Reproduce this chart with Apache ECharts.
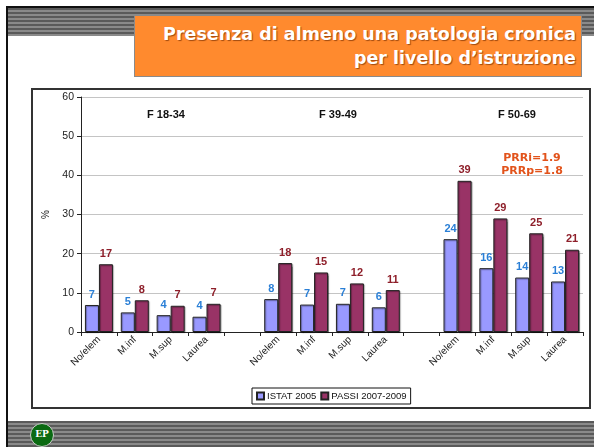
<!DOCTYPE html>
<html>
<head>
<meta charset="utf-8">
<script src="https://cdn.jsdelivr.net/npm/echarts@6/dist/echarts.min.js"></script>
<style>
  html, body { margin: 0; padding: 0; width: 594px; height: 447px; background: #fff; overflow: hidden; }
  .frame-left { position: absolute; left: 6px; top: 6px; width: 2px; height: 441px; background: #111; }
  .frame-top { position: absolute; left: 6px; top: 6px; width: 588px; height: 2px; background: #111; }
  .stripes { position: absolute; left: 8px; width: 586px;
    background: repeating-linear-gradient(to bottom, #5a5a5a 0px, #5a5a5a 2px, #8a8a8a 2px, #8a8a8a 4px); }
  .head { top: 8px; height: 28px; }
  .foot { top: 421px; height: 26px; }
  .titlebox { position: absolute; left: 134px; top: 15px; width: 448px; height: 62px;
    background: #ff8a2e; border: 1px solid #8a8a8a; text-align: right;
    font-family: "DejaVu Sans", sans-serif; font-weight: bold; font-size: 17.5px; color: #fff;
    line-height: 24px; padding: 6px 5px 0 0; box-sizing: border-box; text-shadow: 1px 1px 1px #a04a10; }
  .logo { position: absolute; left: 30px; top: 423px; width: 22px; height: 22px; border-radius: 50%;
    background: #0a6a12; border: 1px solid #ccc; color: #fff; font: bold 9px "DejaVu Serif", serif;
    text-align: center; line-height: 20px; }
  #main { position: absolute; left: 31px; top: 88px; width: 560px; height: 321px;
    border: 2px solid #333; box-sizing: border-box; background: #fff; }
</style>
</head>
<body>
<div class="frame-top"></div>
<div class="frame-left"></div>
<div class="stripes head"></div>
<div class="stripes foot"></div>
<div class="logo">EP</div>
<div class="titlebox">Presenza di almeno una patologia cronica<br>per livello d’istruzione</div>
<div id="main"></div>
<script>
// categorie (tre gruppi di età separati da una colonna vuota)
const categories = ['No/elem', 'M.inf', 'M.sup', 'Laurea', '',
                    'No/elem', 'M.inf', 'M.sup', 'Laurea', '',
                    'No/elem', 'M.inf', 'M.sup', 'Laurea'];
const istat = [6.9, 5.0, 4.3, 3.9, '-', 8.4, 7.0, 7.2, 6.3, '-', 23.7, 16.3, 13.9, 12.9];
const passi = [17.3, 8.1, 6.7, 7.2, '-', 17.6, 15.2, 12.4, 10.7, '-', 38.6, 29.0, 25.2, 21.0];
const yTicks = [0, 10, 20, 30, 40, 50, 60];
const groups = ['F 18-34', 'F 39-49', 'F 50-69'];
const prr = ['PRRi=1.9', 'PRRp=1.8'];

const chart = echarts.init(document.getElementById('main'));

const font = 'Liberation Sans, Arial, sans-serif';
const groupX = [128, 300, 479];

const option = {
  animation: false,
  title: groups.map((g, i) => ({
    text: g,
    left: groupX[i],
    top: 14,
    textAlign: 'center',
    textStyle: { fontFamily: font, fontSize: 11, fontWeight: 'bold', color: '#111' }
  })).concat([{
    text: prr.join('\n'),
    left: 494,
    top: 57,
    textAlign: 'center',
    textStyle: { fontFamily: 'DejaVu Sans, sans-serif', fontSize: 11, fontWeight: 'bold',
                 color: '#e2531b', lineHeight: 13 }
  }]),
  legend: {
    data: ['ISTAT 2005', 'PASSI 2007-2009'],
    left: 219,
    top: 298,
    borderColor: '#111',
    borderWidth: 1,
    padding: [3, 4, 3, 4],
    itemWidth: 7,
    itemHeight: 7,
    itemGap: 4,
    icon: 'rect',
    textStyle: { fontFamily: font, fontSize: 9.5, color: '#111', padding: [0, 0, 0, -2] }
  },
  grid: { left: 48, right: 6, top: 7, bottom: 75, containLabel: false },
  xAxis: {
    type: 'category',
    data: categories,
    axisLine: { lineStyle: { color: '#222', width: 1 } },
    axisTick: { show: true, length: 4, lineStyle: { color: '#222' } },
    axisLabel: { rotate: 45, fontFamily: font, fontSize: 10, color: '#222', margin: 6, interval: 0 }
  },
  yAxis: {
    type: 'value',
    min: yTicks[0],
    max: yTicks[yTicks.length - 1],
    interval: 10,
    name: '%',
    nameLocation: 'middle',
    nameGap: 30,
    nameRotate: 90,
    nameTextStyle: { fontFamily: font, fontSize: 10, color: '#222' },
    axisLine: { show: true, lineStyle: { color: '#222' } },
    axisTick: { show: true, length: 4, lineStyle: { color: '#222' } },
    axisLabel: { fontFamily: font, fontSize: 10.5, color: '#222', margin: 7 },
    splitLine: { lineStyle: { color: '#c4c4c4', width: 1 } }
  },
  series: [
    {
      name: 'ISTAT 2005',
      type: 'bar',
      data: istat,
      barWidth: 14,
      barGap: '0%',
      itemStyle: { color: '#9999ff', borderColor: '#222', borderWidth: 1,
                   shadowColor: 'rgba(0,0,0,0.35)', shadowOffsetX: 1, shadowOffsetY: 1, shadowBlur: 1 },
      label: {
        show: true, position: 'top', distance: 5,
        formatter: p => Math.round(p.value),
        fontFamily: font, fontSize: 11, fontWeight: 'bold', color: '#2a7fd6'
      }
    },
    {
      name: 'PASSI 2007-2009',
      type: 'bar',
      data: passi,
      barWidth: 14,
      itemStyle: { color: '#993366', borderColor: '#222', borderWidth: 1,
                   shadowColor: 'rgba(0,0,0,0.35)', shadowOffsetX: 1, shadowOffsetY: 1, shadowBlur: 1 },
      label: {
        show: true, position: 'top', distance: 5,
        formatter: p => Math.round(p.value),
        fontFamily: font, fontSize: 11, fontWeight: 'bold', color: '#8e1f2a'
      }
    }
  ]
};

chart.setOption(option);
</script>
</body>
</html>
